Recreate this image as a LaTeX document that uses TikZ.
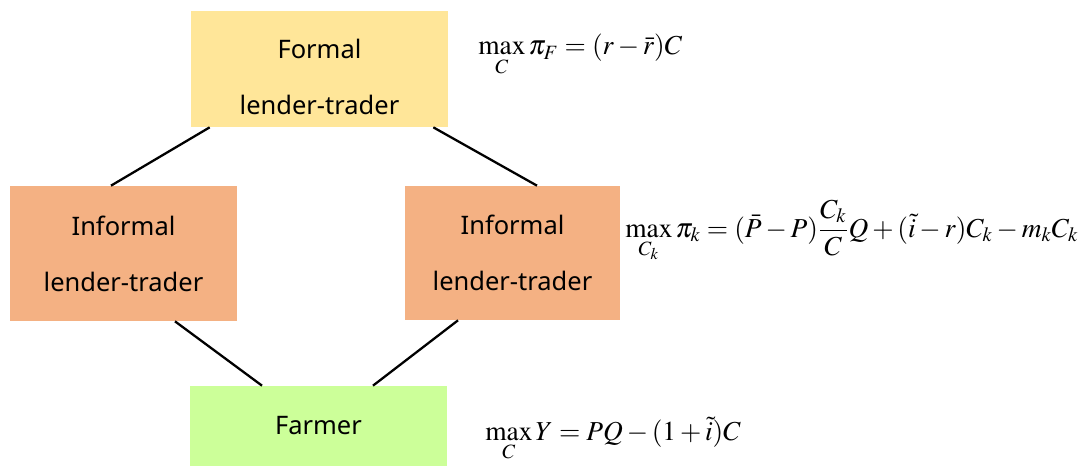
\documentclass[tikz,border=0pt]{standalone}
\usepackage[no-math]{fontspec}
\usepackage{mathptmx}
\newfontfamily\boxfont{Noto Sans}
\definecolor{formalfill}{RGB}{255, 230, 153}
\definecolor{informalfill}{RGB}{244, 177, 131}
\definecolor{farmerfill}{RGB}{204, 255, 153}
\usepackage{tikz}
\usetikzlibrary{calc}

\tikzset{
  agentbox/.style = {
    draw        = none,
    inner sep   = 0pt,
    align       = center,
    font        = \boxfont\fontsize{14.5}{32}\selectfont
  },
  link/.style = {
    line width  = 1.3pt,
    black
  },
  objective/.style = {
    inner sep   = 0pt,
    anchor      = base west,
    font        = \fontsize{15.6}{18}\selectfont
  }
}

\begin{document}
\begin{tikzpicture}[x=0.02cm, y=-0.02cm]
  \useasboundingbox (0,0) rectangle (1080,466);

  % agents
  \node[
    agentbox,
    fill           = formalfill,
    minimum width  = 5.14cm,
    minimum height = 2.32cm
  ] (formal) at (319.5,69) {};
  \node[agentbox] (formaltext) at ([yshift=-0.16cm]formal.center) {Formal\\lender-trader};
  \node[
    agentbox,
    fill           = informalfill,
    minimum width  = 4.54cm,
    minimum height = 2.70cm
  ] (informalL) at (123.5,253.5) {Informal\\lender-trader};
  \node[
    agentbox,
    fill           = informalfill,
    minimum width  = 4.30cm,
    minimum height = 2.68cm
  ] (informalR) at (512.5,253) {Informal\\lender-trader};
  \node[
    agentbox,
    fill           = farmerfill,
    minimum width  = 5.16cm,
    minimum height = 1.60cm
  ] (farmer) at (318.5,426) {Farmer};

  % links
  \draw[link] ([xshift=0.38cm]formal.south west) -- ([xshift=-0.25cm]informalL.north);
  \draw[link] ([xshift=-0.30cm]formal.south east) -- ([xshift=0.49cm]informalR.north);
  \draw[link] ([xshift=1.03cm]informalL.south) -- ([xshift=-1.13cm]farmer.north);
  \draw[link] ([xshift=-1.09cm]informalR.south) -- ([xshift=1.09cm]farmer.north);

  % objectives
  \node[objective] (objF) at (478,55)
    {$\displaystyle\max_{C}\pi_F=(r-\bar{r})C$};
  \node[objective] (objK) at (625,237)
    {$\displaystyle\max_{C_k}\pi_k=(\bar{P}-P)\frac{C_k}{C}Q+(\tilde{i}-r)C_k-m_kC_k$};
  \node[objective] (objY) at (485,440)
    {$\displaystyle\max_{C}Y=PQ-(1+\tilde{i})C$};
\end{tikzpicture}
\end{document}
